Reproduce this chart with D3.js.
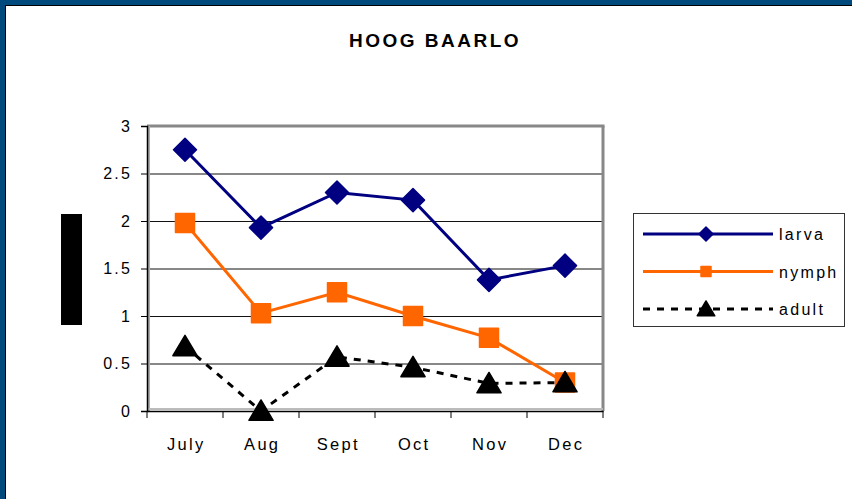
<!DOCTYPE html>
<html>
<head>
<meta charset="utf-8">
<script src="https://cdn.jsdelivr.net/npm/d3@7"></script>
<style>
  body { margin: 0; background: #fff; }
  svg { display: block; font-family: "Liberation Sans", Arial, sans-serif; }
</style>
</head>
<body>
<div id="chart"></div>
<script>
// data
var months = ["July", "Aug", "Sept", "Oct", "Nov", "Dec"];
var larva = [2.75, 1.93, 2.30, 2.22, 1.38, 1.53];
var nymph = [1.98, 1.03, 1.25, 1.00, 0.77, 0.30];
var adult = [0.68, 0.00, 0.57, 0.46, 0.29, 0.30];
var yTicks = [0, 0.5, 1, 1.5, 2, 2.5, 3];
var seriesNames = ["larva", "nymph", "adult"];

var W = 852, H = 499;
var plot = {left: 147, right: 603, top: 126, bottom: 411};
var font = "Liberation Sans, Arial, sans-serif";

var svg = d3.select("#chart").append("svg")
    .attr("width", W)
    .attr("height", H);

// frame round the slide
svg.append("rect").attr("x", 0).attr("y", 0).attr("width", W).attr("height", H).attr("fill", "#00497c");
svg.append("rect").attr("x", 5).attr("y", 5).attr("width", W - 5).attr("height", H - 5).attr("fill", "#000");
svg.append("rect").attr("x", 6).attr("y", 6).attr("width", W - 6).attr("height", H - 6).attr("fill", "#fff");

// title
svg.append("text")
    .attr("x", 435).attr("y", 47)
    .attr("text-anchor", "middle")
    .attr("font-size", 19).attr("font-weight", "bold")
    .attr("letter-spacing", 2.5)
    .text("HOOG BAARLO");

// blacked-out axis title
svg.append("rect").attr("x", 61).attr("y", 214).attr("width", 21).attr("height", 111).attr("fill", "#000");

// scales
var x = d3.scaleBand().domain(months).range([plot.left, plot.right]).padding(0);
var y = d3.scaleLinear().domain([0, 3]).range([plot.bottom, plot.top]);
var cx = function(i) { return x(months[i]) + x.bandwidth() / 2; };

// grid lines
svg.append("g")
    .attr("transform", "translate(" + plot.left + ",0)")
    .call(d3.axisLeft(y).tickValues(yTicks.slice(1, -1)).tickSize(-(plot.right - plot.left)).tickFormat(""))
    .call(function(g) { g.select(".domain").remove(); })
    .selectAll("line").attr("stroke", "#111").attr("stroke-width", 1);

// plot area border (grey, a bit thick like the original)
svg.append("line").attr("x1", plot.left).attr("x2", plot.right + 1.5)
    .attr("y1", plot.top).attr("y2", plot.top).attr("stroke", "#888").attr("stroke-width", 3);
svg.append("line").attr("x1", plot.right).attr("x2", plot.right)
    .attr("y1", plot.top).attr("y2", plot.bottom).attr("stroke", "#888").attr("stroke-width", 3);
svg.append("line").attr("x1", plot.left + 2).attr("x2", plot.left + 2)
    .attr("y1", plot.top).attr("y2", plot.bottom).attr("stroke", "#aaa").attr("stroke-width", 2);
svg.append("line").attr("x1", plot.left).attr("x2", plot.right)
    .attr("y1", plot.bottom - 2).attr("y2", plot.bottom - 2).attr("stroke", "#bbb").attr("stroke-width", 2);

// y axis
var yAxis = svg.append("g")
    .attr("transform", "translate(" + plot.left + ",0)")
    .call(d3.axisLeft(y).tickValues(yTicks).tickSize(6).tickPadding(9).tickFormat(d3.format("")));
yAxis.select(".domain").attr("stroke", "#000").attr("stroke-width", 1.5);
yAxis.selectAll("text").attr("font-size", 16).attr("fill", "#000").attr("letter-spacing", 2.2)
    .attr("font-family", font);

// x axis, ticks sit between the months
var xAxis = svg.append("g")
    .attr("transform", "translate(0," + plot.bottom + ")")
    .call(d3.axisBottom(x).tickSize(0).tickPadding(27));
xAxis.select(".domain").attr("stroke", "#000").attr("stroke-width", 1.5);
xAxis.selectAll("text").attr("font-size", 16.5).attr("fill", "#000").attr("letter-spacing", 2.3)
    .attr("dx", 1.2).attr("font-family", font);
xAxis.selectAll(".sep").data(d3.range(months.length + 1)).enter().append("line")
    .attr("x1", function(i) { return plot.left + i * x.bandwidth(); })
    .attr("x2", function(i) { return plot.left + i * x.bandwidth(); })
    .attr("y1", 0).attr("y2", 7).attr("stroke", "#000");

// lines
var line = d3.line()
    .x(function(d, i) { return cx(i); })
    .y(function(d) { return y(d); });

svg.append("path").datum(adult).attr("d", line).attr("fill", "none")
    .attr("stroke", "#000").attr("stroke-width", 3).attr("stroke-dasharray", "7,7");
svg.append("path").datum(nymph).attr("d", line).attr("fill", "none")
    .attr("stroke", "#ff6600").attr("stroke-width", 3);
svg.append("path").datum(larva).attr("d", line).attr("fill", "none")
    .attr("stroke", "#000080").attr("stroke-width", 3);

// markers
var diamond = function(s) { return "M0," + (-s) + "L" + s + ",0L0," + s + "L" + (-s) + ",0Z"; };
var square = function(s) { return "M" + (-s) + "," + (-s) + "h" + (2 * s) + "v" + (2 * s) + "h" + (-2 * s) + "Z"; };
var triangle = function(s) { return "M0," + (-s) + "L" + (s * 1.1) + "," + (s * 0.85) + "L" + (-s * 1.1) + "," + (s * 0.85) + "Z"; };

svg.selectAll(".mk-larva").data(larva).enter().append("path")
    .attr("transform", function(d, i) { return "translate(" + cx(i) + "," + y(d) + ")"; })
    .attr("d", diamond(11.5)).attr("fill", "#000080")
    .attr("stroke", "#000080").attr("stroke-linejoin", "round").attr("stroke-width", 1.5);
svg.selectAll(".mk-nymph").data(nymph).enter().append("path")
    .attr("transform", function(d, i) { return "translate(" + cx(i) + "," + y(d) + ")"; })
    .attr("d", square(9.5)).attr("fill", "#ff6600")
    .attr("stroke", "#ff6600").attr("stroke-linejoin", "round").attr("stroke-width", 1.5);
svg.selectAll(".mk-adult").data(adult).enter().append("path")
    .attr("transform", function(d, i) { return "translate(" + cx(i) + "," + y(d) + ")"; })
    .attr("d", triangle(11)).attr("fill", "#000")
    .attr("stroke", "#000").attr("stroke-linejoin", "round").attr("stroke-width", 1.5);

// legend
var legend = svg.append("g");
legend.append("rect").attr("x", 633.5).attr("y", 213.5).attr("width", 211).attr("height", 113)
    .attr("fill", "#fff").attr("stroke", "#333").attr("stroke-width", 1);

var legColors = ["#000080", "#ff6600", "#000"];
var legDash = [null, null, "7,7"];
var legShapes = [diamond(7), square(5), triangle(8)];
var legY = d3.scalePoint().domain(seriesNames).range([234, 309]);

seriesNames.forEach(function(name, i) {
  var ly = legY(name);
  legend.append("line").attr("x1", 643).attr("x2", 773).attr("y1", ly).attr("y2", ly)
      .attr("stroke", legColors[i]).attr("stroke-width", 3).attr("stroke-dasharray", legDash[i]);
  legend.append("path").attr("transform", "translate(706," + ly + ")")
      .attr("d", legShapes[i]).attr("fill", legColors[i])
      .attr("stroke", legColors[i]).attr("stroke-linejoin", "round").attr("stroke-width", 1.5);
  legend.append("text").attr("x", 779).attr("y", ly + 6)
      .attr("font-size", 16).attr("letter-spacing", 2.3).text(name);
});
</script>
</body>
</html>
